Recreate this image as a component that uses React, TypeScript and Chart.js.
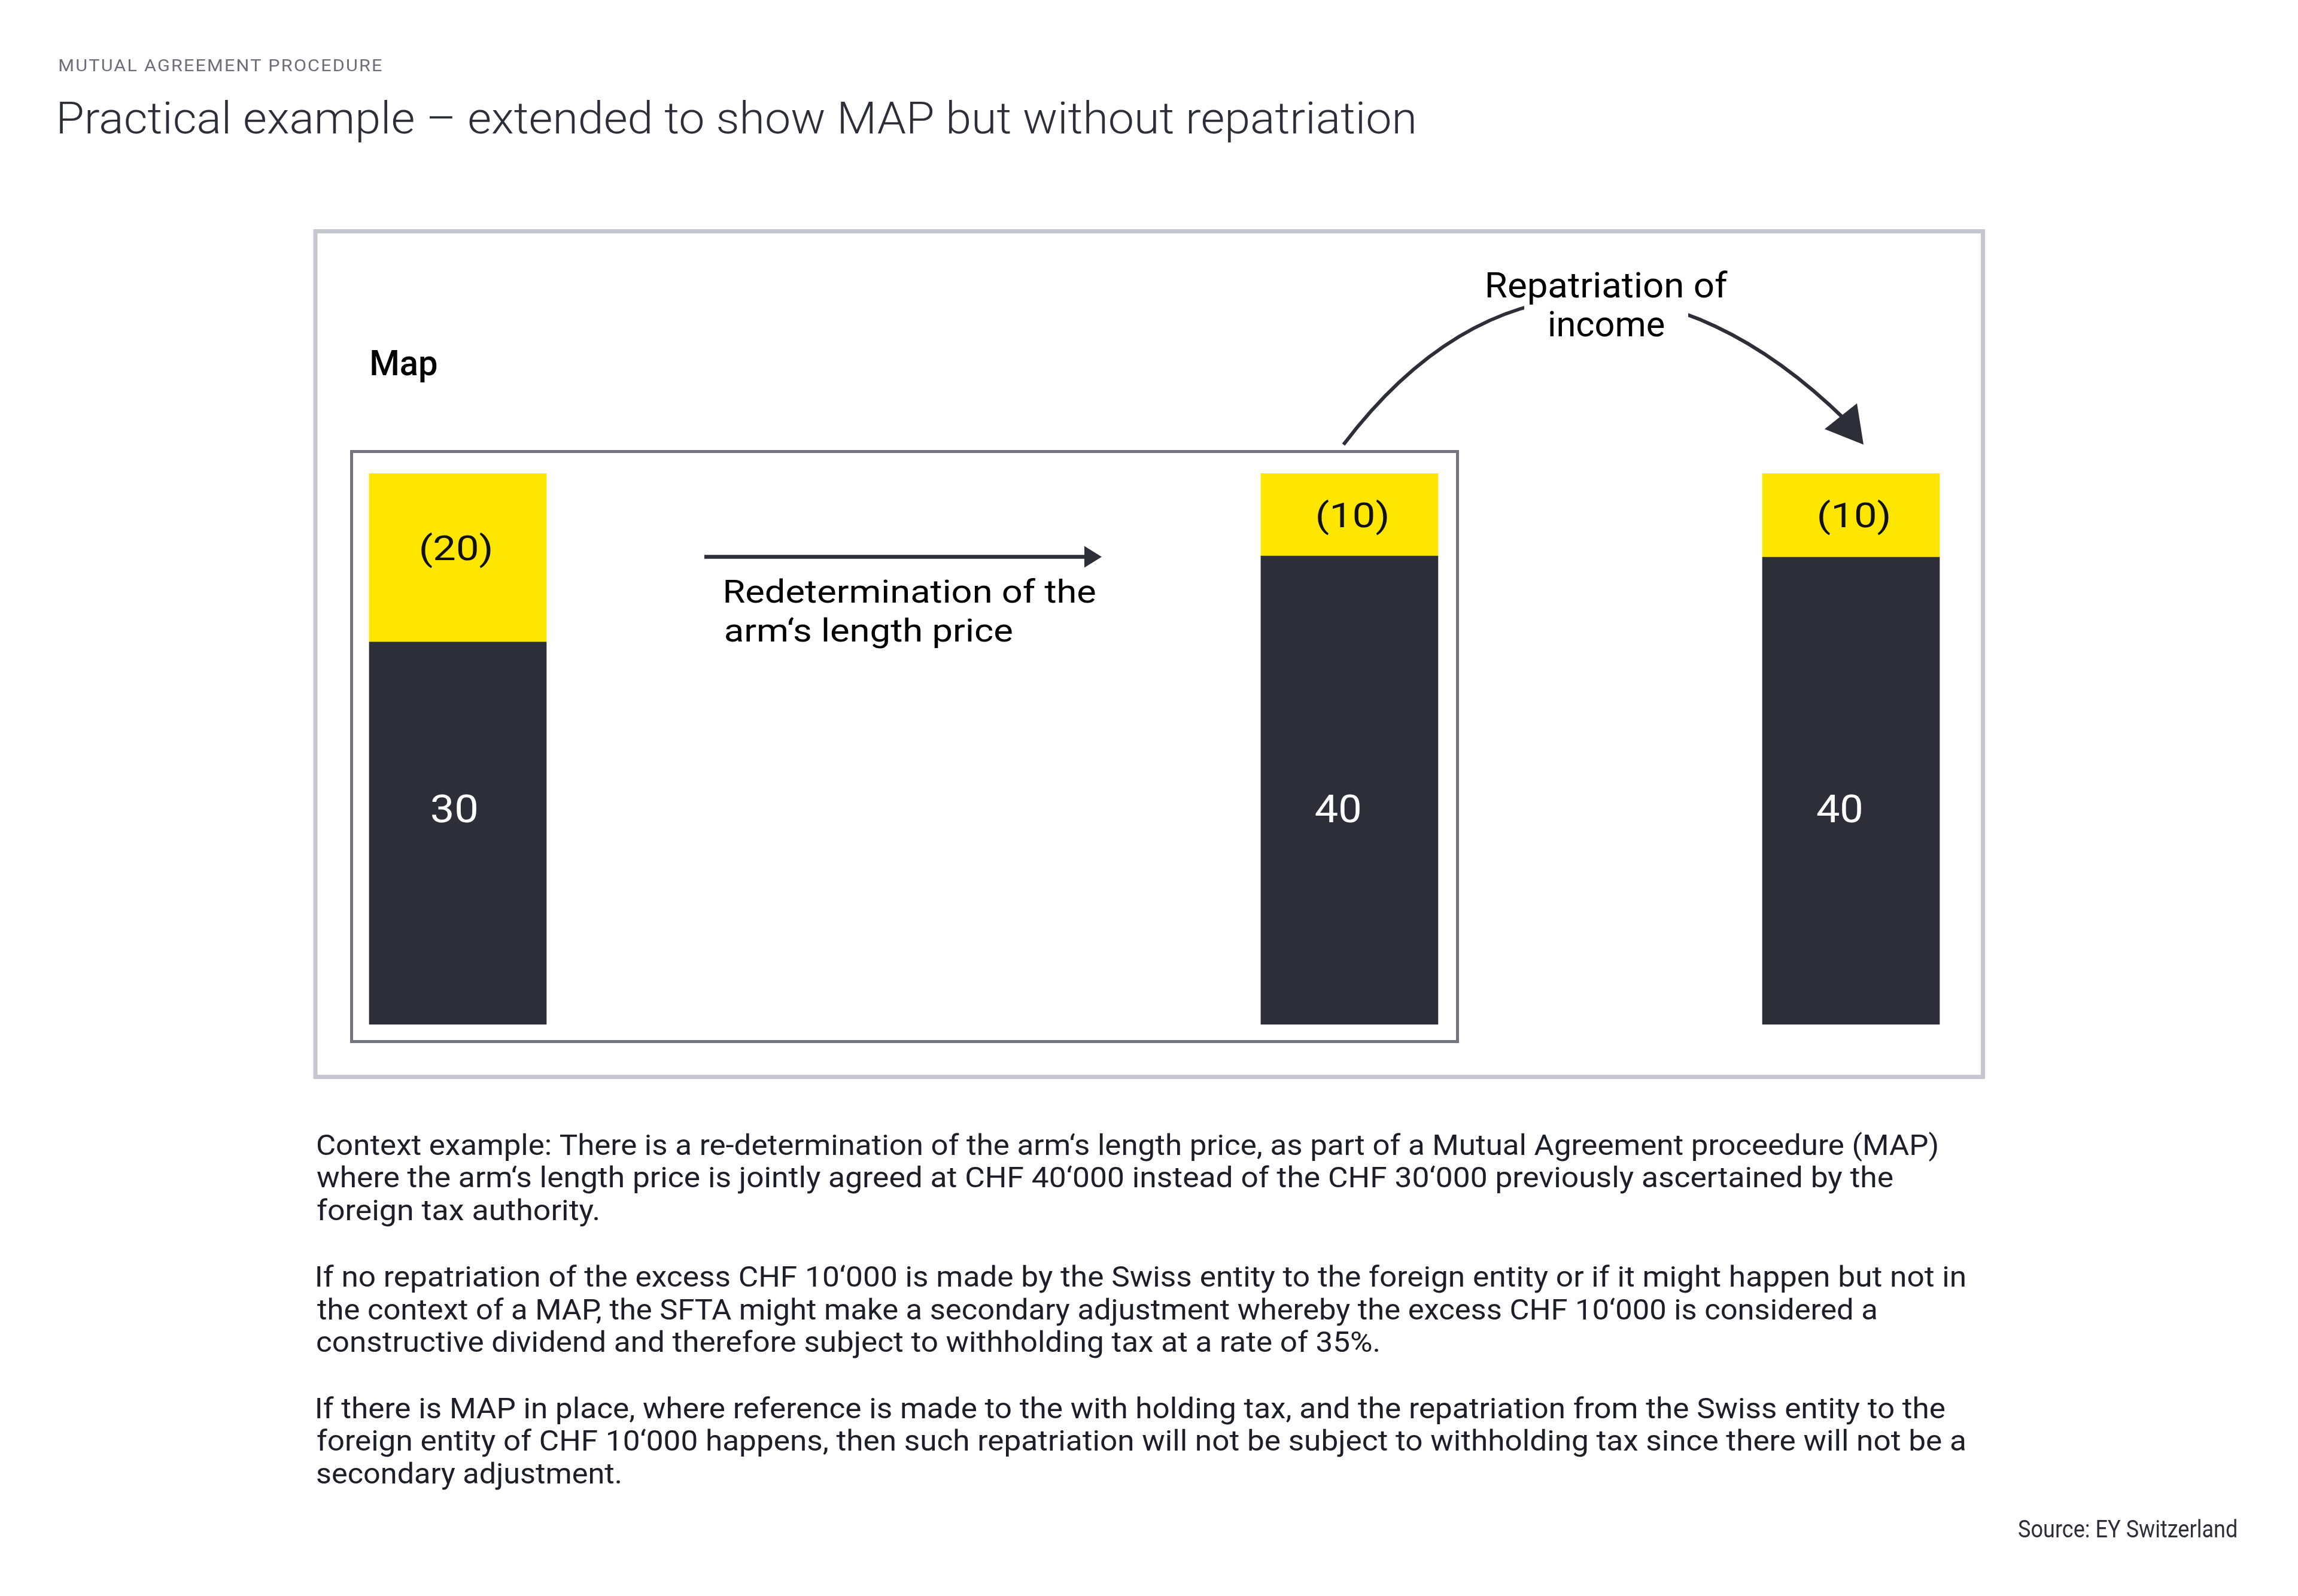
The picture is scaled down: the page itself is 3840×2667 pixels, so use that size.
import React, { useEffect, useRef } from 'react';
import { Chart, registerables } from 'chart.js';

Chart.register(...registerables);

// ---------------- data ----------------
const stages = ['Foreign tax authority', 'After MAP', 'After repatriation'];
// drawn segment heights (as proportioned in the picture, total 50)
const darkHeights = [34.7, 42.5, 42.4];
const yellowHeights = [15.3, 7.5, 7.6];
// labels printed on the segments
const darkLabels = ['30', '40', '40'];
const yellowLabels = ['(20)', '(10)', '(10)'];

const subtitle = 'MUTUAL AGREEMENT PROCEDURE';
const title = 'Practical example \u2013 extended to show MAP but without repatriation';
const boxTitle = 'Map';
const arrowText1 = ['Redetermination of the', 'arm\u2018s length price'];
const arrowText2 = ['Repatriation of', 'income'];
const paragraphLines = [
  'Context example: There is a re-determination of the arm\u2018s length price, as part of a Mutual Agreement proceedure (MAP)',
  'where the arm\u2018s length price is jointly agreed at CHF 40\u2018000 instead of the CHF 30\u2018000 previously ascertained by the',
  'foreign tax authority.',
  'If no repatriation of the excess CHF 10\u2018000 is made by the Swiss entity to the foreign entity or if it might happen but not in',
  'the context of a MAP, the SFTA might make a secondary adjustment whereby the excess CHF 10\u2018000 is considered a',
  'constructive dividend and therefore subject to withholding tax at a rate of 35%.',
  'If there is MAP in place, where reference is made to the with holding tax, and the repatriation from the Swiss entity to the',
  'foreign entity of CHF 10\u2018000 happens, then such repatriation will not be subject to withholding tax since there will not be a',
  'secondary adjustment.',
];
const sourceText = 'Source: EY Switzerland';

// ---------------- layout / style ----------------
const W = 3840;
const H = 2667;
const STAGE_X = [0, 16, 25]; // slot positions of the three stages on the x scale
const DARK_LABEL_LEVEL = 19.6;
const DARK = '#2e2e38';
const YELLOW = '#ffe600';
const FONT = 'Roboto, "Liberation Sans", sans-serif';
const PARA_ENDS = [3237, 3163, 999, 3283, 3135, 2303, 3250, 3283, 1036];
const PARA_BASE = [1930, 1984, 2039, 2150, 2205, 2259, 2370, 2424, 2479];

function fitText(
  ctx: CanvasRenderingContext2D,
  text: string,
  x: number,
  baseline: number,
  width: number,
  font: string,
  color: string,
  align: 'left' | 'center' = 'left',
  spacing = '0px'
) {
  ctx.save();
  ctx.font = font;
  (ctx as any).letterSpacing = spacing;
  ctx.fillStyle = color;
  ctx.textAlign = 'left';
  ctx.textBaseline = 'alphabetic';
  const m = ctx.measureText(text);
  const w = m.actualBoundingBoxRight + m.actualBoundingBoxLeft || m.width;
  const s = width / w;
  const left = align === 'center' ? x - width / 2 : x;
  ctx.translate(left, baseline);
  ctx.scale(s, 1);
  ctx.fillText(text, m.actualBoundingBoxLeft || 0, 0);
  ctx.restore();
}

const diagramPlugin = {
  id: 'diagram',
  beforeDraw(chart: any) {
    const ctx: CanvasRenderingContext2D = chart.ctx;
    ctx.save();
    ctx.fillStyle = '#ffffff';
    ctx.fillRect(0, 0, W, H);
    // outer frame
    ctx.strokeStyle = '#c6c6ce';
    ctx.lineWidth = 7;
    ctx.strokeRect(527, 386.5, 3313.5 - 527, 1799.5 - 386.5);
    // inner MAP frame
    ctx.strokeStyle = '#747480';
    ctx.lineWidth = 5;
    ctx.strokeRect(587.5, 754.5, 2435.5 - 587.5, 1740.5 - 754.5);
    ctx.restore();
  },
  afterDatasetsDraw(chart: any) {
    const ctx: CanvasRenderingContext2D = chart.ctx;
    const yScale = chart.scales.y;
    const darkMeta = chart.getDatasetMeta(0).data;
    const yellowMeta = chart.getDatasetMeta(1).data;
    stages.forEach((_, i) => {
      const d = darkMeta[i];
      const y = yellowMeta[i];
      const yc = (y.y + y.base) / 2 - (i === 0 ? 16 : 0);
      const yw = yellowLabels[i].length * 29.3;
      fitText(ctx, yellowLabels[i], y.x + (i === 0 ? -3 : 5), yc + 20.5, yw, `400 58px ${FONT}`, '#111111', 'center');
      const dc = yScale.getPixelForValue(DARK_LABEL_LEVEL);
      fitText(ctx, darkLabels[i], d.x - (i === 0 ? 6 : 20), dc + 23, 74, `400 65px ${FONT}`, '#ffffff', 'center');
    });
  },
  afterDraw(chart: any) {
    const ctx: CanvasRenderingContext2D = chart.ctx;
    // header
    fitText(ctx, subtitle, 99.5, 119, 538, `400 28px ${FONT}`, '#6e6e78', 'left', '2px');
    fitText(ctx, title, 99.5, 222.5, 2263, `300 75px ${FONT}`, DARK);
    // Map label
    fitText(ctx, boxTitle, 621, 627, 109, `500 60px ${FONT}`, '#000000');

    // straight arrow
    ctx.save();
    ctx.strokeStyle = DARK;
    ctx.fillStyle = DARK;
    ctx.lineWidth = 6.5;
    ctx.beginPath();
    ctx.moveTo(1177, 930.5);
    ctx.lineTo(1816, 930.5);
    ctx.stroke();
    ctx.beginPath();
    ctx.moveTo(1841, 930.5);
    ctx.lineTo(1812, 912.5);
    ctx.lineTo(1812, 948.5);
    ctx.closePath();
    ctx.fill();
    ctx.restore();
    fitText(ctx, arrowText1[0], 1212, 1007, 618, `400 54px ${FONT}`, '#000000');
    fitText(ctx, arrowText1[1], 1212, 1072, 479, `400 54px ${FONT}`, '#000000');

    // curved arrow (with a gap behind its caption)
    ctx.save();
    ctx.beginPath();
    ctx.rect(0, 0, W, H);
    ctx.rect(2547, 420, 274, 200);
    ctx.clip('evenodd');
    ctx.strokeStyle = DARK;
    ctx.lineWidth = 6;
    ctx.lineCap = 'butt';
    ctx.beginPath();
    ctx.moveTo(2245, 743);
    ctx.bezierCurveTo(2487, 424, 2798, 421, 3085, 703);
    ctx.stroke();
    ctx.restore();
    ctx.save();
    ctx.fillStyle = DARK;
    ctx.beginPath();
    ctx.moveTo(3114, 743);
    ctx.lineTo(3103, 674);
    ctx.lineTo(3049, 717);
    ctx.closePath();
    ctx.fill();
    ctx.restore();
    fitText(ctx, arrowText2[0], 2485, 497, 402, `400 59px ${FONT}`, '#000000');
    fitText(ctx, arrowText2[1], 2590, 562, 191, `400 59px ${FONT}`, '#000000');

    // paragraphs
    paragraphLines.forEach((line, i) => {
      fitText(ctx, line, 530, PARA_BASE[i], PARA_ENDS[i] - 530, `400 49px ${FONT}`, '#1e1e28');
    });
    // source
    fitText(ctx, sourceText, 3373, 2569, 364, `400 40px ${FONT}`, DARK);
  },
};

export default function App() {
  const canvasRef = useRef<HTMLCanvasElement | null>(null);

  useEffect(() => {
    document.documentElement.style.overflow = 'hidden';
    document.body.style.margin = '0';
    document.body.style.overflow = 'hidden';
    const u = (3093 - 765) / 25;
    const left = 765 - 2 * u;
    const right = W - (left + 29 * u);
    const chart = new Chart(canvasRef.current as HTMLCanvasElement, {
      type: 'bar',
      data: {
        datasets: [
          {
            label: 'Arm\u2018s length price',
            data: stages.map((_, i) => ({ x: STAGE_X[i], y: darkHeights[i] })),
            backgroundColor: DARK,
            borderWidth: 0,
            barThickness: 296,
            stack: 's',
          },
          {
            label: 'Adjustment',
            data: stages.map((_, i) => ({ x: STAGE_X[i], y: yellowHeights[i] })),
            backgroundColor: YELLOW,
            borderWidth: 0,
            barThickness: 296,
            stack: 's',
          },
        ],
      } as any,
      options: {
        animation: false,
        responsive: true,
        maintainAspectRatio: false,
        devicePixelRatio: 1,
        layout: { padding: { left, right, top: 791, bottom: H - 1712 } },
        scales: {
          x: { type: 'linear', min: -2, max: 27, offset: false, display: false, stacked: true, grid: { offset: false } },
          y: { min: 0, max: 50, display: false, stacked: true },
        },
        plugins: {
          legend: { display: false },
          tooltip: { enabled: false },
          title: { display: false },
        },
        events: [],
      } as any,
      plugins: [diagramPlugin],
    });
    return () => chart.destroy();
  }, []);

  return (
    <div style={{ position: 'relative', width: W + 'px', height: H + 'px', background: '#fff' }}>
      <canvas ref={canvasRef} />
    </div>
  );
}
